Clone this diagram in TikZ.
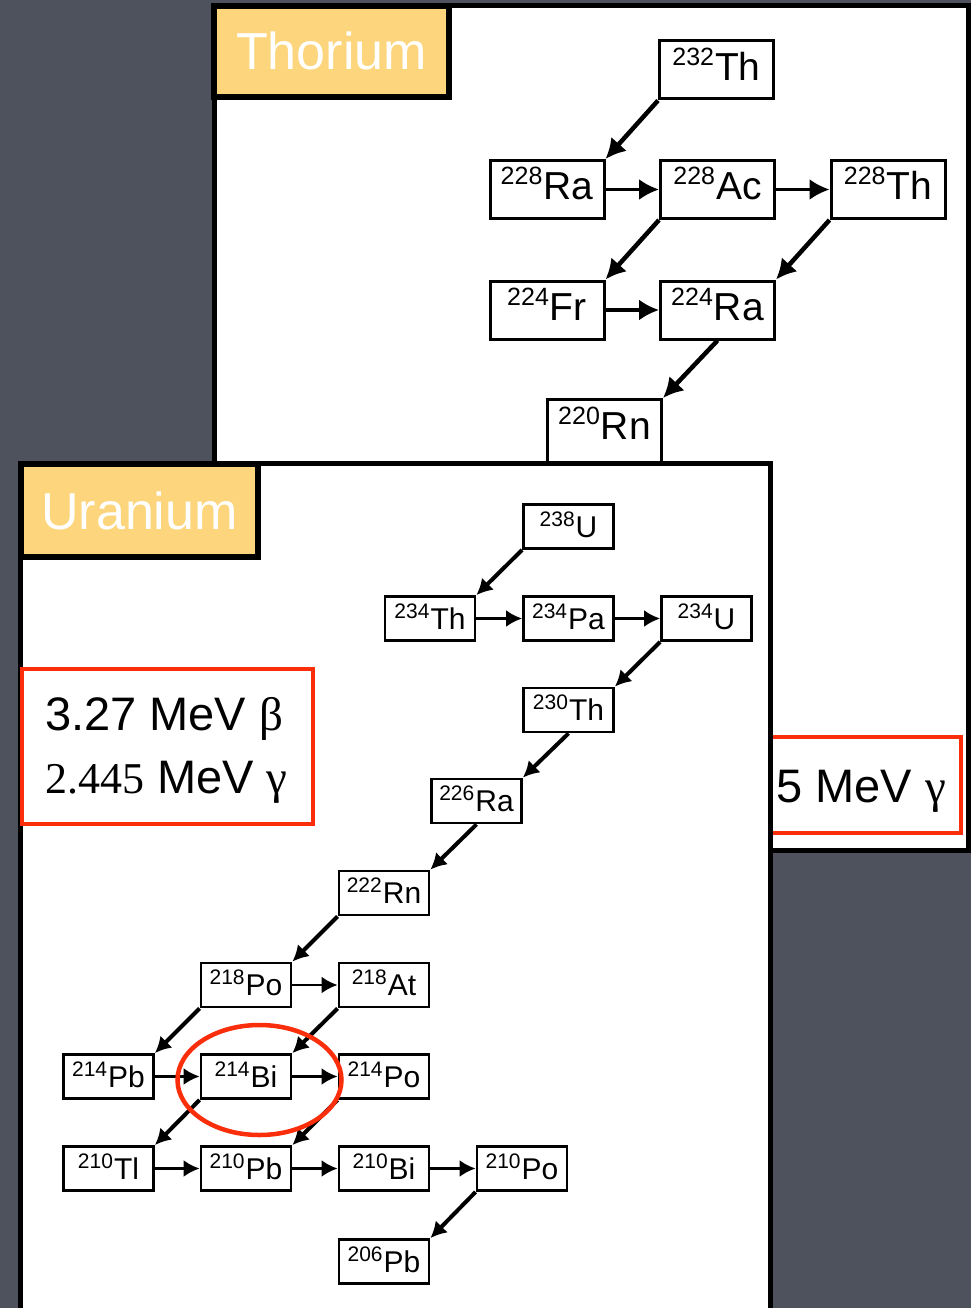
\documentclass[tikz,border=0pt]{standalone}
\usepackage{fontspec}
\setmainfont{Liberation Sans}
\newfontfamily\serifgr{Liberation Serif}
\usetikzlibrary{arrows.meta}
\definecolor{bgc}{HTML}{4E525C}
\definecolor{labyel}{HTML}{FDD57C}
\definecolor{hired}{HTML}{FA2E0A}
\newcommand\thnuc[2]{{\fontsize{25pt}{25pt}\selectfont\raisebox{15pt}{#1}}\kern1pt #2}
\newcommand\unuc[2]{{\fontsize{21pt}{21pt}\selectfont\raisebox{11pt}{#1}}\kern1pt #2}
\begin{document}
\begin{tikzpicture}[x=1pt, y=-1pt,
  thbox/.style={draw, line width=3pt, fill=white, minimum width=114pt, minimum height=58pt,
    inner sep=0pt, text height=30pt, text depth=9pt, font=\fontsize{39pt}{39pt}\selectfont},
  ubox/.style={draw, line width=2.8pt, fill=white, minimum width=90pt, minimum height=44pt,
    inner sep=0pt, text height=22pt, text depth=1pt, font=\fontsize{30pt}{30pt}\selectfont},
  tharr/.style={-{Latex[length=20pt,width=21pt]}, line width=4.5pt},
  thharr/.style={-{Latex[length=20pt,width=21pt]}, line width=3.2pt},
  uarr/.style={-{Latex[length=16pt,width=17pt]}, line width=4pt},
  uharr/.style={-{Latex[length=16pt,width=17pt]}, line width=2.8pt},
  panel/.style={draw=black, fill=white, line width=5pt},
  lab/.style={draw=black, fill=labyel, line width=6pt, text=white, inner sep=0pt,
    font=\fontsize{52pt}{52pt}\selectfont, text height=37pt, text depth=0pt},
  redframe/.style={draw=hired, line width=4pt, fill=white},
  redtext/.style={anchor=base west, inner sep=0pt, text=black, font=\fontsize{47pt}{47pt}\selectfont}
]
\useasboundingbox (0,0) rectangle (971,1308);
\fill[bgc] (0,0) rectangle (971,1308);

% ---------------- Thorium panel ----------------
\draw[panel] (214,6) rectangle (968,850);
\node[lab, minimum width=235pt, minimum height=91pt] (thlab) at (331.5,51.5) {Thorium};

\node[thbox] (T232) at (716.5,70) {\thnuc{232}{Th}};
\node[thbox] (Ra228) at (547,189.5) {\thnuc{228}{Ra}};
\node[thbox] (Ac228) at (717.5,189.5) {\thnuc{228}{Ac}};
\node[thbox] (Th228) at (888,189.5) {\thnuc{228}{Th}};
\node[thbox] (Fr224) at (547,310) {\thnuc{224}{Fr}};
\node[thbox] (Ra224) at (717.5,310) {\thnuc{224}{Ra}};
\node[thbox, minimum height=63pt, text depth=13pt] (Rn220) at (604.5,431) {\thnuc{220}{Rn}};

\draw[tharr] (T232.south west) -- (Ra228.north east);
\draw[thharr] (Ra228.east) -- (Ac228.west);
\draw[thharr] (Ac228.east) -- (Th228.west);
\draw[tharr] (Ac228.south west) -- (Fr224.north east);
\draw[tharr] (Th228.south west) -- (Ra224.north east);
\draw[thharr] (Fr224.east) -- (Ra224.west);
\draw[tharr] (Ra224.south) -- (Rn220.north east);

\draw[redframe] (600,737) rectangle (961,833);
\node[redtext] (thgam) at (776,802) {5 MeV {\serifgr γ}};

% ---------------- Uranium panel ----------------
\draw[panel] (20,463) rectangle (770,1340);
\node[lab, minimum width=237pt, minimum height=93pt] (ulab) at (139.5,510.5) {Uranium};

\node[ubox] (U238) at (568.5,526.5) {\unuc{238}{U}};
\node[ubox] (Th234) at (430,618.5) {\unuc{234}{Th}};
\node[ubox] (Pa234) at (568.5,618.5) {\unuc{234}{Pa}};
\node[ubox] (U234) at (706.5,618.5) {\unuc{234}{U}};
\node[ubox] (Th230) at (568.5,710) {\unuc{230}{Th}};
\node[ubox] (Ra226) at (476.5,801) {\unuc{226}{Ra}};
\node[ubox] (Rn222) at (384,893) {\unuc{222}{Rn}};
\node[ubox] (Po218) at (246,985) {\unuc{218}{Po}};
\node[ubox] (At218) at (384,985) {\unuc{218}{At}};
\node[ubox] (Pb214) at (108.5,1076.5) {\unuc{214}{Pb}};
\node[ubox] (Bi214) at (246,1076.5) {\unuc{214}{Bi}};
\node[ubox] (Po214) at (384,1076.5) {\unuc{214}{Po}};
\node[ubox] (Tl210) at (108.5,1168.5) {\unuc{210}{Tl}};
\node[ubox] (Pb210) at (246,1168.5) {\unuc{210}{Pb}};
\node[ubox] (Bi210) at (384,1168.5) {\unuc{210}{Bi}};
\node[ubox] (Po210) at (522,1168.5) {\unuc{210}{Po}};
\node[ubox] (Pb206) at (384,1261.5) {\unuc{206}{Pb}};

\draw[uarr] (U238.south west) -- (Th234.north east);
\draw[uharr] (Th234.east) -- (Pa234.west);
\draw[uharr] (Pa234.east) -- (U234.west);
\draw[uarr] (U234.south west) -- (Th230.north east);
\draw[uarr] (Th230.south) -- (Ra226.north east);
\draw[uarr] (Ra226.south) -- (Rn222.north east);
\draw[uarr] (Rn222.south west) -- (Po218.north east);
\draw[uharr] (Po218.east) -- (At218.west);
\draw[uarr] (Po218.south west) -- (Pb214.north east);
\draw[uarr] (At218.south west) -- (Bi214.north east);
\draw[uharr] (Pb214.east) -- (Bi214.west);
\draw[uharr] (Bi214.east) -- (Po214.west);
\draw[uarr] (Bi214.south west) -- (Tl210.north east);
\draw[uarr] (Po214.south west) -- (Pb210.north east);
\draw[uharr] (Tl210.east) -- (Pb210.west);
\draw[uharr] (Pb210.east) -- (Bi210.west);
\draw[uharr] (Bi210.east) -- (Po210.west);
\draw[uarr] (Po210.south west) -- (Pb206.north east);

\draw[redframe] (22,669) rectangle (313,824);
\node[redtext] (ubeta) at (45,730) {3.27 MeV {\serifgr β}};
\node[redtext] (ugam) at (45,793) {{\serifgr\fontsize{44pt}{44pt}\selectfont 2.445} MeV {\serifgr γ}};

\draw[hired, line width=4.5pt] (259.5,1080) ellipse [x radius=82pt, y radius=55pt];
\end{tikzpicture}
\end{document}
